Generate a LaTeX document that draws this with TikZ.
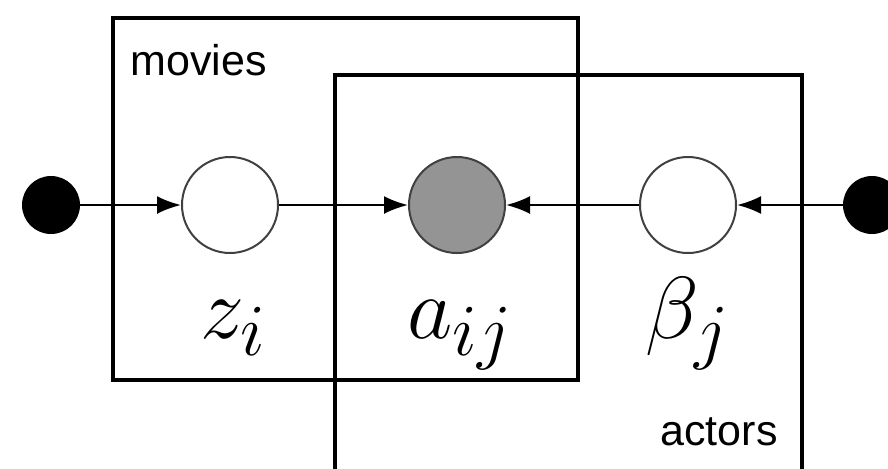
\documentclass[tikz,border=0pt]{standalone}
\usepackage{fontspec}
\newfontfamily\platefont{Liberation Sans}
\usetikzlibrary{arrows.meta}

\begin{document}
\begin{tikzpicture}[x=0.5pt, y=-0.5pt,
    latent/.style={circle, draw=black!75, line width=1pt, fill=white, minimum size=48pt, inner sep=0pt},
    observed/.style={latent, fill=black!42},
    hyper/.style={circle, fill=black, minimum size=29pt, inner sep=0pt},
    edge/.style={-{Latex[length=12pt, width=9pt]}, line width=1.2pt},
    platebox/.style={line width=1.6pt},
    lbl/.style={font=\Huge, scale=1.77, anchor=base, inner sep=0pt},
    platelbl/.style={font=\platefont\fontsize{21.5}{22}\selectfont, inner sep=0pt}]
    \useasboundingbox (0,0) rectangle (888,468);
    \clip (0,0) rectangle (888,468);
    \draw[platebox] (113,18) rectangle (578,380);
    \draw[platebox] (335,75) rectangle (802,520);
    \node[platelbl, anchor=base west] (movies) at (130,75) {movies};
    \node[platelbl, anchor=base east] (actors) at (778,445) {actors};
    \node[hyper] (zdot) at (51,205) {};
    \node[latent] (z) at (230,205) {};
    \node[observed] (a) at (457,205) {};
    \node[latent] (beta) at (688,205) {};
    \node[hyper] (bdot) at (872,205) {};
    \draw[edge] (zdot) -- (z);
    \draw[edge] (z) -- (a);
    \draw[edge] (beta) -- (a);
    \draw[edge] (bdot) -- (beta);
    \node[lbl] (zlbl) at (234,338) {$z_i$};
    \node[lbl] (albl) at (460,338) {$a_{ij}$};
    \node[lbl] (betalbl) at (688,338) {$\beta_j$};
\end{tikzpicture}
\end{document}
